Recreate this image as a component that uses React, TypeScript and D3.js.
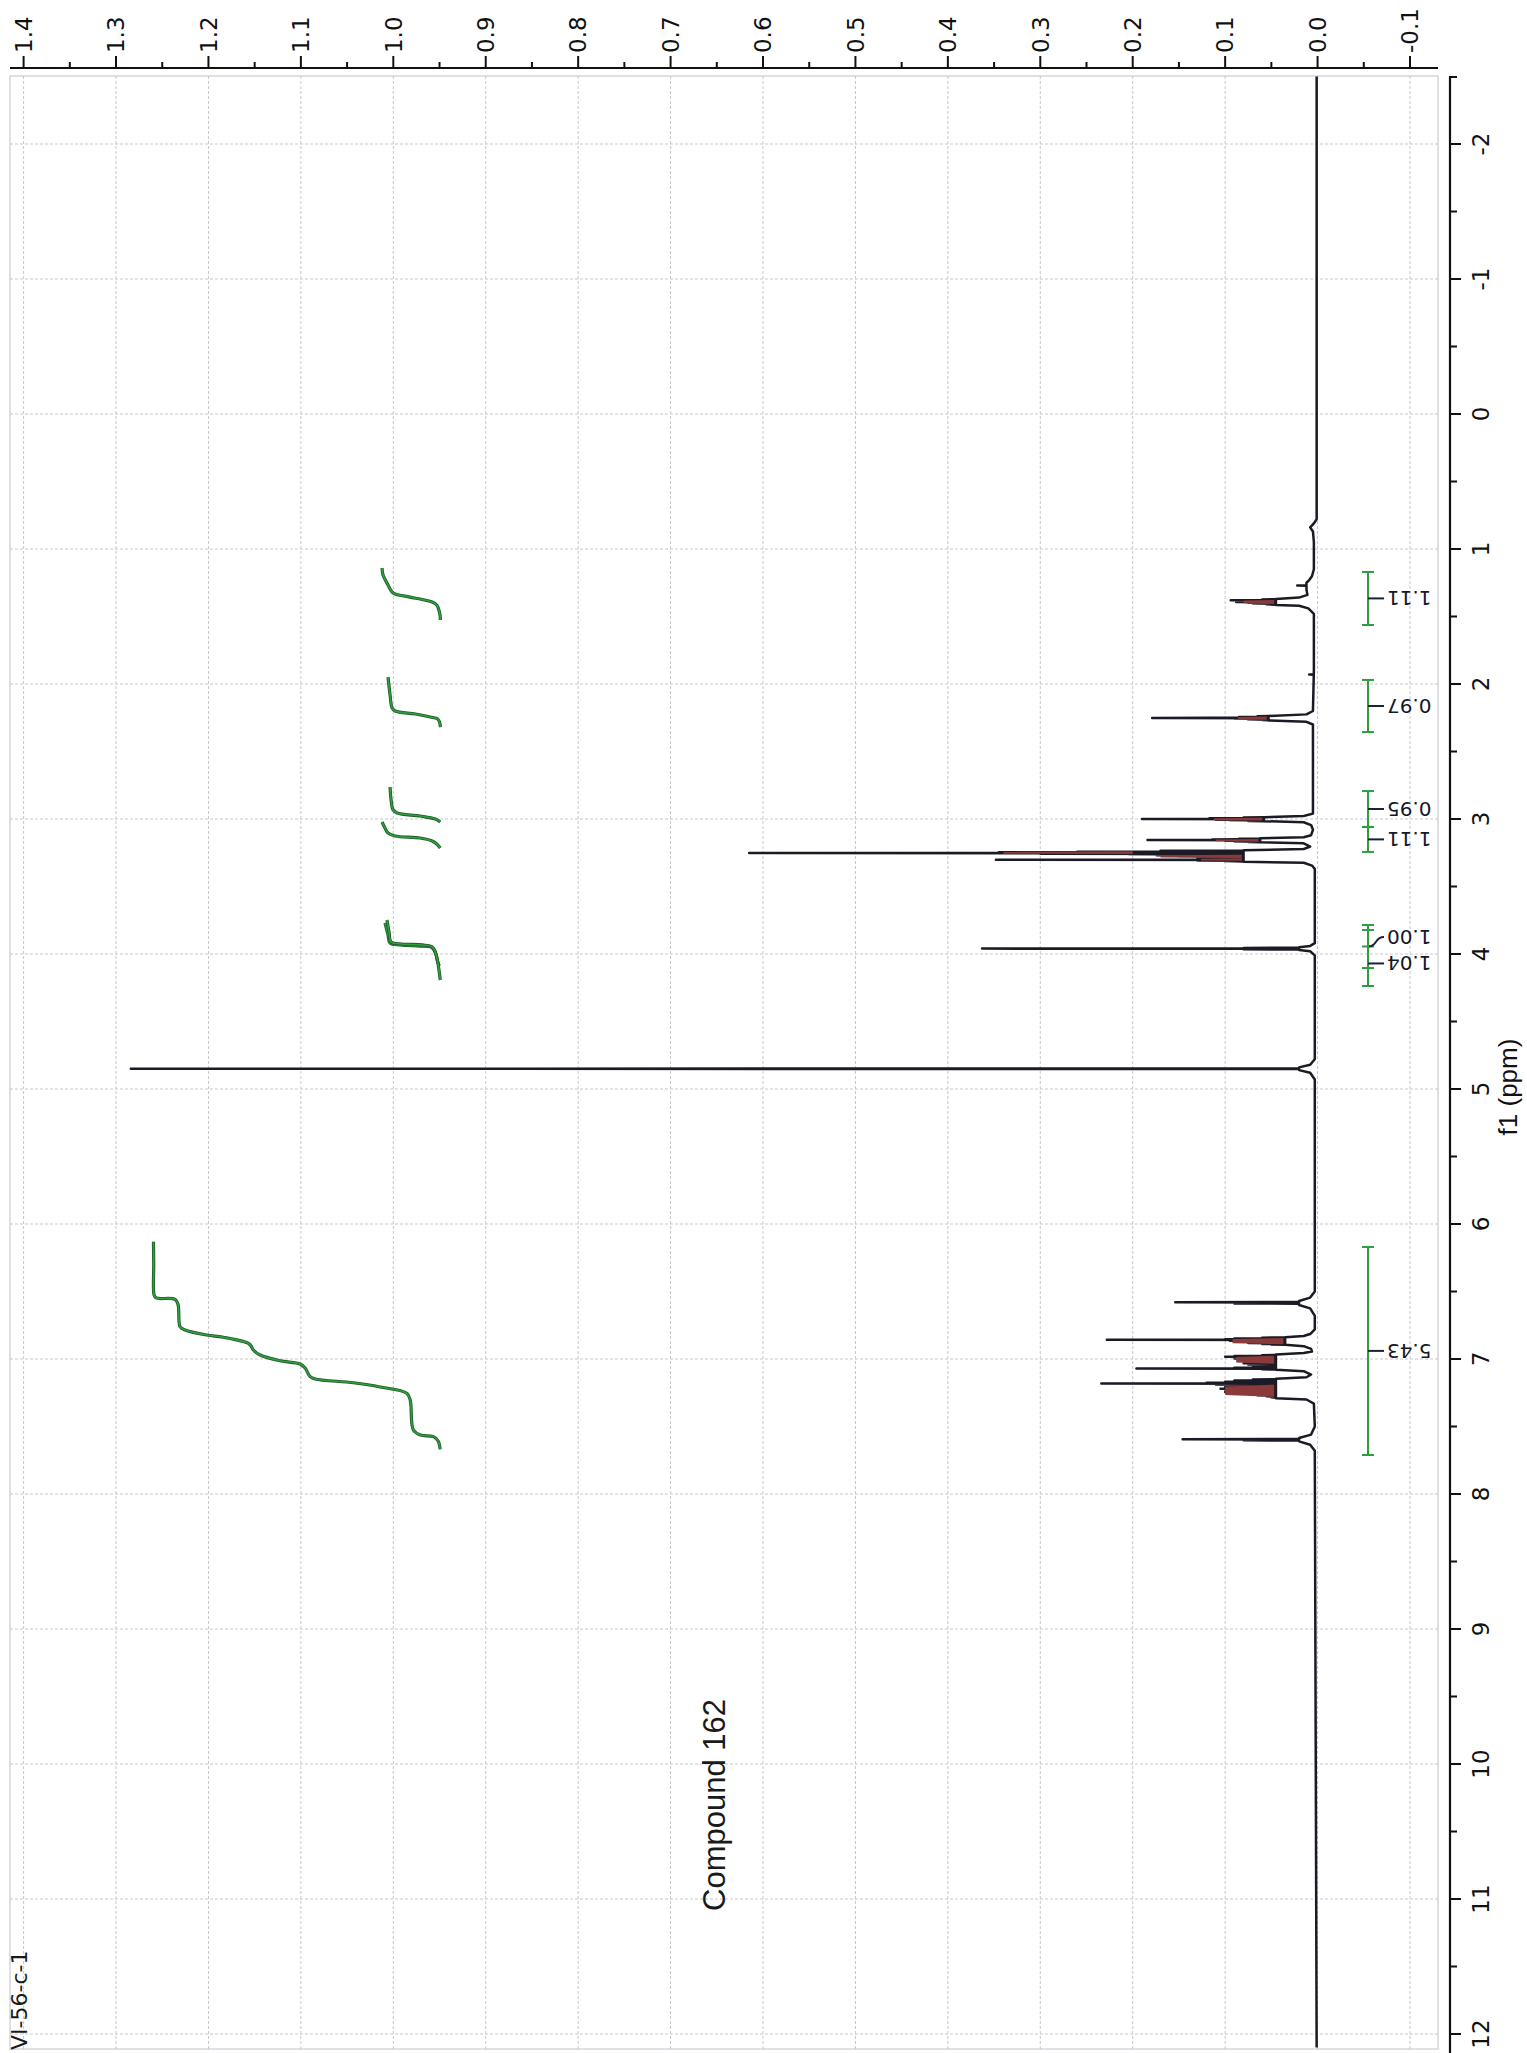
import React from 'react';
import * as d3 from 'd3';

const W = 1527;
const H = 2053;

// intensity axis (top) tick values
const intensityTicks = [1.4, 1.3, 1.2, 1.1, 1.0, 0.9, 0.8, 0.7, 0.6, 0.5, 0.4, 0.3, 0.2, 0.1, 0.0, -0.1];
const intensityMinor = [1.35, 1.25, 1.15, 1.05, 0.95, 0.85, 0.75, 0.65, 0.55, 0.45, 0.35, 0.25, 0.15, 0.05, -0.05];
// chemical shift axis (right)
const ppmTicks = [-2, -1, 0, 1, 2, 3, 4, 5, 6, 7, 8, 9, 10, 11, 12];
const ppmMinor = [-1.5, -0.5, 0.5, 1.5, 2.5, 3.5, 4.5, 5.5, 6.5, 7.5, 8.5, 9.5, 10.5, 11.5];

// baseline / envelope of the trace: [ppm, intensity]
const baseline: [number, number][] = [
  [-2.5, 0.001], [0.78, 0.001], [0.81, 0.004], [0.84, 0.008], [0.87, 0.005], [0.95, 0.004],
  [1.15, 0.004], [1.2, 0.006], [1.23, 0.009], [1.25, 0.012], [1.3, 0.012], [1.34, 0.011],
  [1.36, 0.02], [1.37, 0.045], [1.414, 0.045], [1.42, 0.02], [1.44, 0.01], [1.48, 0.004],
  [1.6, 0.004], [1.9, 0.004],
  [2.2, 0.005], [2.225, 0.012], [2.236, 0.053], [2.27, 0.053], [2.28, 0.012], [2.3, 0.005],
  [2.96, 0.005], [2.978, 0.015], [2.986, 0.058], [3.016, 0.058], [3.024, 0.015], [3.045, 0.007],
  [3.08, 0.005], [3.12, 0.007], [3.135, 0.015], [3.143, 0.062], [3.172, 0.062], [3.18, 0.015],
  [3.205, 0.008], [3.222, 0.015], [3.232, 0.08], [3.316, 0.08], [3.324, 0.015], [3.345, 0.006],
  [3.37, 0.003], [3.92, 0.003], [3.94, 0.008], [3.95, 0.02], [3.97, 0.02], [3.98, 0.008],
  [4.01, 0.003], [4.78, 0.003], [4.82, 0.008], [4.84, 0.02], [4.86, 0.02], [4.88, 0.008],
  [4.93, 0.003], [6.5, 0.003], [6.545, 0.008], [6.57, 0.02], [6.6, 0.02], [6.625, 0.008],
  [6.68, 0.003], [6.78, 0.003], [6.815, 0.008], [6.83, 0.015], [6.838, 0.035], [6.895, 0.035],
  [6.905, 0.015], [6.925, 0.007], [6.945, 0.006], [6.955, 0.015], [6.966, 0.045], [7.08, 0.045],
  [7.09, 0.015], [7.115, 0.007], [7.135, 0.012], [7.147, 0.045], [7.29, 0.045], [7.3, 0.012],
  [7.33, 0.004], [7.5, 0.003], [7.56, 0.007], [7.585, 0.02], [7.61, 0.02], [7.635, 0.008],
  [7.68, 0.003], [12.1, 0.001],
];

// resonance lines: ppm and peak height
const linePpm = [
  1.27,
  1.374, 1.38, 1.386, 1.392, 1.398, 1.404, 1.41,
  1.93,
  2.239, 2.245, 2.251, 2.256, 2.262, 2.267,
  2.989, 2.995, 3.0, 3.005, 3.01, 3.014,
  3.146, 3.151, 3.156, 3.161, 3.166, 3.17,
  3.236, 3.242, 3.247, 3.252, 3.257, 3.262, 3.268, 3.274, 3.28, 3.286, 3.292, 3.297, 3.302, 3.307, 3.312,
  3.955, 3.96, 3.965,
  4.85,
  6.58, 6.588,
  6.842, 6.848, 6.853, 6.858, 6.864, 6.87, 6.876, 6.882, 6.888, 6.892,
  6.972, 6.978, 6.984, 6.99, 6.996, 7.002, 7.008, 7.016, 7.024, 7.032, 7.04, 7.048, 7.056, 7.064, 7.07, 7.076,
  7.152, 7.16, 7.168, 7.175, 7.181, 7.188, 7.196, 7.204, 7.212, 7.22, 7.228, 7.236, 7.244, 7.252, 7.26, 7.268, 7.276, 7.284,
  7.595, 7.602,
];
const lineHeight = [
  0.022,
  0.06, 0.094, 0.08, 0.088, 0.075, 0.07, 0.055,
  0.009,
  0.065, 0.085, 0.179, 0.09, 0.075, 0.06,
  0.08, 0.117, 0.19, 0.11, 0.095, 0.075,
  0.085, 0.114, 0.184, 0.1, 0.09, 0.075,
  0.17, 0.26, 0.345, 0.615, 0.3, 0.204, 0.174, 0.15, 0.12, 0.1, 0.13, 0.12, 0.348, 0.13, 0.1,
  0.08, 0.363, 0.08,
  1.284,
  0.154, 0.09,
  0.06, 0.09, 0.1, 0.228, 0.095, 0.08, 0.07, 0.075, 0.06, 0.05,
  0.06, 0.09, 0.1, 0.085, 0.09, 0.08, 0.07, 0.065, 0.07, 0.08, 0.075, 0.065, 0.07, 0.09, 0.196, 0.06,
  0.07, 0.09, 0.1, 0.12, 0.234, 0.11, 0.1, 0.09, 0.1, 0.105, 0.1, 0.09, 0.1, 0.085, 0.075, 0.065, 0.055, 0.05,
  0.146, 0.08,
];

// dense multiplet bands (printed in dark red): [ppm start, ppm end, low, high]
const bands: [number, number, number, number][] = [
  [1.377, 1.407, 0.047, 0.08],
  [2.241, 2.265, 0.055, 0.086],
  [2.991, 3.012, 0.06, 0.112],
  [3.148, 3.168, 0.064, 0.11],
  [3.239, 3.26, 0.2, 0.34],
  [3.264, 3.288, 0.082, 0.17],
  [3.291, 3.31, 0.082, 0.126],
  [6.845, 6.89, 0.037, 0.092],
  [6.976, 7.035, 0.047, 0.088],
  [7.19, 7.28, 0.047, 0.1],
];

// integral curves: [ppm, value]
const integralCurves: [number, number][][] = [
  [[1.141, 1.0122], [1.193, 1.0111], [1.267, 1.0057], [1.319, 1.0013], [1.333, 0.998], [1.356, 0.982], [1.378, 0.966], [1.393, 0.958], [1.415, 0.953], [1.467, 0.95], [1.526, 0.949]],
  [[1.948, 1.0057], [2.081, 1.0035], [2.178, 1.0013], [2.2, 0.998], [2.222, 0.976], [2.244, 0.96], [2.259, 0.952], [2.281, 0.95], [2.319, 0.949]],
  [[2.763, 1.0035], [2.859, 1.0024], [2.933, 1.0002], [2.956, 0.9958], [2.978, 0.9709], [3.0, 0.9546], [3.022, 0.9492]],
  [[3.022, 1.0122], [3.067, 1.009], [3.104, 1.0057], [3.126, 0.998], [3.141, 0.971], [3.163, 0.958], [3.185, 0.953], [3.215, 0.9492]],
  [[3.77, 1.009], [3.859, 1.0057], [3.919, 1.0035], [3.933, 0.9925], [3.941, 0.971], [3.948, 0.9589], [3.985, 0.9546], [4.044, 0.9525], [4.089, 0.9503]],
  [[3.748, 1.0068], [3.837, 1.0046], [3.911, 1.0024], [3.926, 0.9904], [3.933, 0.9687], [3.948, 0.9579], [4.007, 0.9536], [4.081, 0.9514], [4.193, 0.9492]],
  [[6.131, 1.2595], [6.3, 1.2592], [6.526, 1.2588], [6.548, 1.2566], [6.558, 1.2361], [6.6, 1.2328], [6.761, 1.2307], [6.785, 1.2253], [6.822, 1.2018], [6.839, 1.1838], [6.884, 1.1568], [6.904, 1.1539], [6.933, 1.1514], [6.97, 1.1441], [7.013, 1.1225], [7.037, 1.1008], [7.067, 1.0954], [7.131, 1.09], [7.148, 1.0846], [7.176, 1.0432], [7.207, 1.0143], [7.254, 0.9854], [7.304, 0.9817], [7.526, 0.9783], [7.563, 0.9707], [7.575, 0.9566], [7.607, 0.9515], [7.669, 0.9493]],
];

// integral brackets
const intStart = [1.17, 1.97, 2.793, 3.059, 3.785, 3.822, 6.17];
const intEnd = [1.563, 2.356, 3.059, 3.244, 4.104, 4.237, 7.711];
const intValue = ['1.11', '0.97', '0.95', '1.11', '1.00', '1.04', '5.43'];
const intLabelPpm = [1.366, 2.163, 2.926, 3.151, 3.874, 4.07, 6.94];

const FONT = "'DejaVu Sans', Verdana, sans-serif";
const ARIAL = "'Liberation Sans', Arial, sans-serif";

export default function App() {
  const x = d3.scaleLinear().domain([-0.1, 1.4]).range([1410, 23.6]);
  const y = d3.scaleLinear().domain([-2.5, 12.1]).range([76.5, 2047.5]);

  const frame = { left: 10, right: 1438, top: 76, bottom: 2049 };

  const bl = d3.scaleLinear().domain(baseline.map(d => d[0])).range(baseline.map(d => d[1])).clamp(true);
  const verts: [number, number][] = [];
  baseline.forEach(([p, v]) => {
    if (!linePpm.some(lp => Math.abs(lp - p) < 0.003)) verts.push([p, v]);
  });
  linePpm.forEach((p, i) => {
    const b = bl(p);
    verts.push([p - 0.0022, b], [p, lineHeight[i]], [p + 0.0022, b]);
  });
  verts.sort((a, b) => a[0] - b[0]);

  const line = d3.line<[number, number]>().x(d => x(d[1])).y(d => y(d[0]));
  const smooth = d3.line<[number, number]>().x(d => x(d[1])).y(d => y(d[0])).curve(d3.curveCatmullRom.alpha(0.5));

  const bandPath = (b: [number, number, number, number]) => {
    const [p1, p2, lo, hi] = b;
    const w = (p2 - p1) * 0.15;
    const pts: [number, number][] = [[p1, lo], [p1 + w, hi], [p2 - w, hi], [p2, lo], [p1, lo]];
    return line(pts);
  };

  const bx = 1368;

  return (
    <svg width={W} height={H} style={{ position: 'absolute', left: 0, top: 0, background: '#fff' }}>
      <rect x={0} y={0} width={W} height={H} fill="#fff" />
      {/* grid */}
      <g stroke="#c6c6d0" strokeWidth={1} strokeDasharray="3,2">
        {intensityTicks.map(t => (
          <line key={'gx' + t} x1={x(t)} x2={x(t)} y1={frame.top} y2={frame.bottom} />
        ))}
        {ppmTicks.map(t => (
          <line key={'gy' + t} x1={frame.left} x2={frame.right} y1={y(t)} y2={y(t)} />
        ))}
      </g>
      <rect x={frame.left} y={frame.top} width={frame.right - frame.left} height={frame.bottom - frame.top}
        fill="none" stroke="#c0c0cc" strokeWidth={1} />

      {/* spectrum */}
      <path d={line(verts) || ''} fill="none" stroke="#1c1a24" strokeWidth={2.5} strokeLinejoin="round" />
      {bands.map((b, i) => (
        <path key={'b' + i} d={bandPath(b) || ''} fill="#8a3a3a" stroke="none" />
      ))}

      {/* integral curves */}
      {integralCurves.map((c, i) => (
        <g key={'ic' + i}>
          <path d={smooth(c) || ''} fill="none" stroke="#1f5a2a" strokeWidth={3.2} />
          <path d={smooth(c) || ''} fill="none" stroke="#2f9e3e" strokeWidth={1.6} />
        </g>
      ))}

      {/* integral brackets */}
      {intStart.map((s, i) => {
        const e = intEnd[i];
        const mid = y((s + e) / 2);
        const ly = y(intLabelPpm[i]);
        const straight = Math.abs(mid - ly) < 6;
        return (
          <g key={'ib' + i}>
            <line x1={bx} x2={bx} y1={y(s)} y2={y(e)} stroke="#2f9e3e" strokeWidth={2} />
            <line x1={bx - 6} x2={bx + 6} y1={y(s)} y2={y(s)} stroke="#2f9e3e" strokeWidth={2} />
            <line x1={bx - 6} x2={bx + 6} y1={y(e)} y2={y(e)} stroke="#2f9e3e" strokeWidth={2} />
            {straight ? (
              <line x1={bx} x2={bx + 16} y1={ly} y2={ly} stroke="#1a2236" strokeWidth={2} />
            ) : (
              <>
                <line x1={bx - 6} x2={bx + 6} y1={mid} y2={mid} stroke="#2f9e3e" strokeWidth={2} />
                <path d={`M${bx},${mid} C${bx + 10},${mid} ${bx + 6},${ly} ${bx + 16},${ly}`} fill="none" stroke="#1a2236" strokeWidth={2} />
              </>
            )}
            <text x={bx + 19} y={ly} transform={`rotate(180 ${bx + 19} ${ly})`} textAnchor="end" dy="0.36em"
              fontFamily={FONT} fontSize={20} fill="#15182a">{intValue[i]}</text>
          </g>
        );
      })}

      {/* top intensity axis */}
      <line x1={10} x2={1438} y1={68} y2={68} stroke="#111" strokeWidth={2.2} />
      {intensityTicks.map(t => (
        <g key={'tx' + t}>
          <line x1={x(t)} x2={x(t)} y1={68} y2={56} stroke="#111" strokeWidth={2} />
          <text x={x(t)} y={53} transform={`rotate(-90 ${x(t)} 53)`} dy="0.36em" textAnchor="start"
            fontFamily={FONT} fontSize={23} fill="#111">{t.toFixed(1)}</text>
        </g>
      ))}
      {intensityMinor.map(t => (
        <line key={'mx' + t} x1={x(t)} x2={x(t)} y1={68} y2={62} stroke="#111" strokeWidth={2} />
      ))}

      {/* right ppm axis */}
      <line x1={1450} x2={1450} y1={76} y2={H} stroke="#111" strokeWidth={2.2} />
      <line x1={1450} x2={1457} y1={77} y2={77} stroke="#111" strokeWidth={2} />
      {ppmTicks.map(t => (
        <g key={'ty' + t}>
          <line x1={1450} x2={1461} y1={y(t)} y2={y(t)} stroke="#111" strokeWidth={2} />
          <text x={1481} y={y(t)} transform={`rotate(-90 1481 ${y(t)})`} dy="0.36em" textAnchor="middle"
            fontFamily={FONT} fontSize={23} fill="#111">{t}</text>
        </g>
      ))}
      {ppmMinor.map(t => (
        <line key={'my' + t} x1={1450} x2={1457} y1={y(t)} y2={y(t)} stroke="#111" strokeWidth={2} />
      ))}
      <text x={1508} y={1087} transform="rotate(-90 1508 1087)" dy="0.36em" textAnchor="middle"
        fontFamily={ARIAL} fontSize={26} fill="#111">f1 (ppm)</text>

      {/* annotations */}
      <text x={714} y={1805} transform="rotate(-90 714 1805)" dy="0.36em" textAnchor="middle"
        fontFamily={ARIAL} fontSize={31} fill="#1a1a1a">Compound 162</text>
      <text x={19} y={2050} transform="rotate(-90 19 2050)" dy="0.36em" textAnchor="start"
        fontFamily={FONT} fontSize={22} fill="#1a1a1a">VI-56-c-1</text>
    </svg>
  );
}
